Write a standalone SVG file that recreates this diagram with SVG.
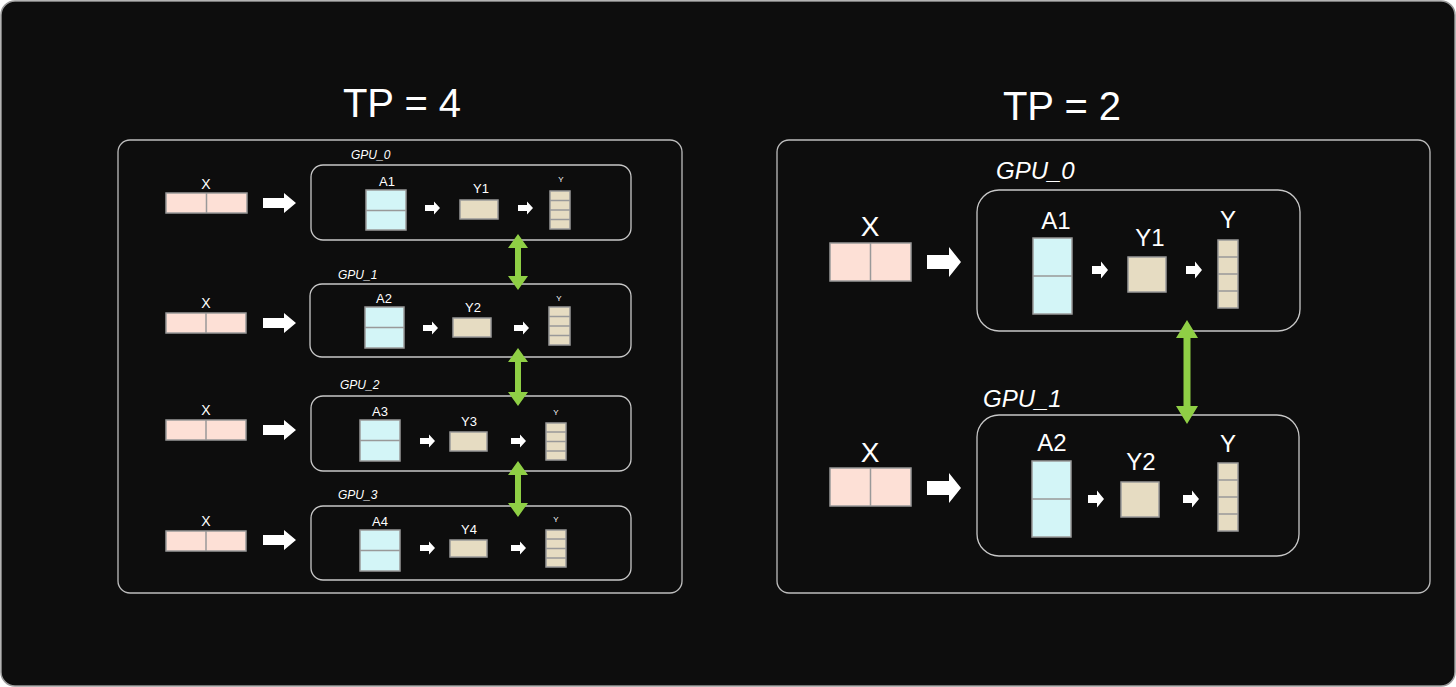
<svg xmlns="http://www.w3.org/2000/svg" xmlns:xlink="http://www.w3.org/1999/xlink" width="1456" height="687" viewBox="0 0 1456 687">
<style>
.t{font-family:"Liberation Sans",Arial,sans-serif;fill:#fff;text-anchor:middle}
.g{font-family:"Liberation Sans",Arial,sans-serif;fill:#fff;font-style:italic}
.panel{fill:none;stroke:#bdbdbd;stroke-width:1.3}
.gpu{fill:none;stroke:#c8c8c8;stroke-width:1.3}
.x{fill:#fde0d6;stroke:#999;stroke-width:1.5}
.a{fill:#d3f5f7;stroke:#999;stroke-width:1.5}
.y{fill:#e6dcc2;stroke:#999;stroke-width:1.5}
.ln{stroke:#999;stroke-width:1.5}
.w{fill:#fff}
.gr{fill:#8fcf45}
</style>
<defs>
<path id="ba" d="M0,-5 H21 V-10 L33,0 L21,10 V5 H0 Z"/>
<path id="sa" d="M0,-3 H9 V-6.5 L15,0 L9,6.5 V3 H0 Z"/>
<path id="bb" d="M0,-7 H22 V-15 L34,0 L22,15 V7 H0 Z"/>
<path id="sb" d="M0,-4 H9 V-8.5 L16,0 L9,8.5 V4 H0 Z"/>
</defs>
<rect x="1" y="1" width="1454" height="685" rx="14" fill="#0d0d0d" stroke="#9a9a9a" stroke-width="1.5"/>
<text class="t" x="402" y="117" font-size="40">TP = 4</text>
<text class="t" x="1062" y="120" font-size="40">TP = 2</text>
<rect class="panel" x="118" y="140" width="564" height="453" rx="12"/>
<rect class="panel" x="777" y="140" width="653" height="453" rx="12"/>

<g id="L0">
<text class="g" x="351" y="159" font-size="12">GPU_0</text>
<text class="t" x="206" y="189" font-size="14">X</text>
<rect class="x" x="166" y="193" width="81" height="20"/><line class="ln" x1="206.5" y1="193" x2="206.5" y2="213"/>
<use href="#ba" class="w" x="263" y="203"/>
<rect class="gpu" x="311" y="165" width="320" height="75" rx="12"/>
<text class="t" x="387" y="186" font-size="13">A1</text>
<rect class="a" x="366" y="190" width="40" height="40"/><line class="ln" x1="366" y1="210.5" x2="406" y2="210.5"/>
<use href="#sa" class="w" x="425" y="208"/>
<text class="t" x="481" y="193" font-size="13">Y1</text>
<rect class="y" x="460" y="200" width="38" height="19"/>
<use href="#sa" class="w" x="518" y="208"/>
<text class="t" x="561" y="182" font-size="8">Y</text>
<rect class="y" x="550" y="191" width="20" height="38"/>
<line class="ln" x1="550" y1="200.5" x2="570" y2="200.5"/><line class="ln" x1="550" y1="210" x2="570" y2="210"/><line class="ln" x1="550" y1="219.5" x2="570" y2="219.5"/>
</g>

<g id="L1">
<text class="g" x="338" y="279" font-size="12">GPU_1</text>
<text class="t" x="206" y="308" font-size="14">X</text>
<rect class="x" x="166" y="313" width="80" height="20"/><line class="ln" x1="206" y1="313" x2="206" y2="333"/>
<use href="#ba" class="w" x="263" y="323"/>
<rect class="gpu" x="310" y="284" width="321" height="73" rx="12"/>
<text class="t" x="384" y="303" font-size="13">A2</text>
<rect class="a" x="365" y="307" width="39" height="41"/><line class="ln" x1="365" y1="327.5" x2="404" y2="327.5"/>
<use href="#sa" class="w" x="423" y="328"/>
<text class="t" x="473" y="312" font-size="13">Y2</text>
<rect class="y" x="453" y="318" width="38" height="19"/>
<use href="#sa" class="w" x="514" y="328"/>
<text class="t" x="559" y="301" font-size="8">Y</text>
<rect class="y" x="549" y="307" width="21" height="38"/>
<line class="ln" x1="549" y1="316.5" x2="570" y2="316.5"/><line class="ln" x1="549" y1="326" x2="570" y2="326"/><line class="ln" x1="549" y1="335.5" x2="570" y2="335.5"/>
</g>

<g id="L2">
<text class="g" x="340" y="389" font-size="12">GPU_2</text>
<text class="t" x="206" y="415" font-size="14">X</text>
<rect class="x" x="166" y="420" width="80" height="20"/><line class="ln" x1="206" y1="420" x2="206" y2="440"/>
<use href="#ba" class="w" x="263" y="430"/>
<rect class="gpu" x="311" y="396" width="320" height="75" rx="12"/>
<text class="t" x="380" y="416" font-size="13">A3</text>
<rect class="a" x="360" y="420" width="40" height="41"/><line class="ln" x1="360" y1="440.5" x2="400" y2="440.5"/>
<use href="#sa" class="w" x="420" y="441"/>
<text class="t" x="469" y="426" font-size="13">Y3</text>
<rect class="y" x="450" y="432" width="37" height="19"/>
<use href="#sa" class="w" x="511" y="441"/>
<text class="t" x="556" y="415" font-size="8">Y</text>
<rect class="y" x="546" y="423" width="20" height="37"/>
<line class="ln" x1="546" y1="432" x2="566" y2="432"/><line class="ln" x1="546" y1="441.5" x2="566" y2="441.5"/><line class="ln" x1="546" y1="451" x2="566" y2="451"/>
</g>

<g id="L3">
<text class="g" x="338" y="499" font-size="12">GPU_3</text>
<text class="t" x="206" y="526" font-size="14">X</text>
<rect class="x" x="166" y="531" width="80" height="20"/><line class="ln" x1="206" y1="531" x2="206" y2="551"/>
<use href="#ba" class="w" x="263" y="540"/>
<rect class="gpu" x="311" y="506" width="320" height="74" rx="12"/>
<text class="t" x="380" y="526" font-size="13">A4</text>
<rect class="a" x="360" y="530" width="40" height="41"/><line class="ln" x1="360" y1="550.5" x2="400" y2="550.5"/>
<use href="#sa" class="w" x="420" y="548"/>
<text class="t" x="469" y="534" font-size="13">Y4</text>
<rect class="y" x="450" y="540" width="37" height="17"/>
<use href="#sa" class="w" x="511" y="548"/>
<text class="t" x="556" y="522" font-size="8">Y</text>
<rect class="y" x="546" y="530" width="20" height="37"/>
<line class="ln" x1="546" y1="539" x2="566" y2="539"/><line class="ln" x1="546" y1="548.5" x2="566" y2="548.5"/><line class="ln" x1="546" y1="558" x2="566" y2="558"/>
</g>

<g id="R0">
<text class="g" x="996" y="179" font-size="24">GPU_0</text>
<text class="t" x="870" y="236" font-size="28">X</text>
<rect class="x" x="830" y="243" width="81" height="38"/><line class="ln" x1="870.5" y1="243" x2="870.5" y2="281"/>
<use href="#bb" class="w" x="927" y="262"/>
<rect class="gpu" x="977" y="190" width="323" height="141" rx="22"/>
<text class="t" x="1056" y="229" font-size="24">A1</text>
<rect class="a" x="1033" y="238" width="39" height="76"/><line class="ln" x1="1033" y1="276" x2="1072" y2="276"/>
<use href="#sb" class="w" x="1092" y="270"/>
<text class="t" x="1150" y="246" font-size="24">Y1</text>
<rect class="y" x="1128" y="257" width="38" height="35"/>
<use href="#sb" class="w" x="1186" y="270"/>
<text class="t" x="1228" y="228" font-size="24">Y</text>
<rect class="y" x="1218" y="240" width="20" height="68"/>
<line class="ln" x1="1218" y1="257" x2="1238" y2="257"/><line class="ln" x1="1218" y1="274" x2="1238" y2="274"/><line class="ln" x1="1218" y1="291" x2="1238" y2="291"/>
</g>

<g id="R1">
<text class="g" x="983" y="407" font-size="24">GPU_1</text>
<text class="t" x="870" y="462" font-size="28">X</text>
<rect class="x" x="830" y="468" width="81" height="38"/><line class="ln" x1="870.5" y1="468" x2="870.5" y2="506"/>
<use href="#bb" class="w" x="927" y="488"/>
<rect class="gpu" x="977" y="415" width="322" height="141" rx="22"/>
<text class="t" x="1052" y="451" font-size="24">A2</text>
<rect class="a" x="1032" y="461" width="39" height="76"/><line class="ln" x1="1032" y1="499" x2="1071" y2="499"/>
<use href="#sb" class="w" x="1088" y="499"/>
<text class="t" x="1141" y="470" font-size="24">Y2</text>
<rect class="y" x="1121" y="482" width="38" height="35"/>
<use href="#sb" class="w" x="1183" y="499"/>
<text class="t" x="1228" y="452" font-size="24">Y</text>
<rect class="y" x="1218" y="463" width="20" height="68"/>
<line class="ln" x1="1218" y1="480" x2="1238" y2="480"/><line class="ln" x1="1218" y1="497" x2="1238" y2="497"/><line class="ln" x1="1218" y1="514" x2="1238" y2="514"/>
</g>

<g id="connectors" class="gr">
<path d="M518,234 L528,248 H521 V276 H528 L518,290 L508,276 H515 V248 H508 Z"/>
<path d="M518,348 L528,362 H521 V392 H528 L518,406 L508,392 H515 V362 H508 Z"/>
<path d="M518,461 L528,475 H521 V503 H528 L518,517 L508,503 H515 V475 H508 Z"/>
<path d="M1187,320 L1198,338 H1190.5 V406 H1198 L1187,424 L1176,406 H1183.5 V338 H1176 Z"/>
</g>
</svg>
